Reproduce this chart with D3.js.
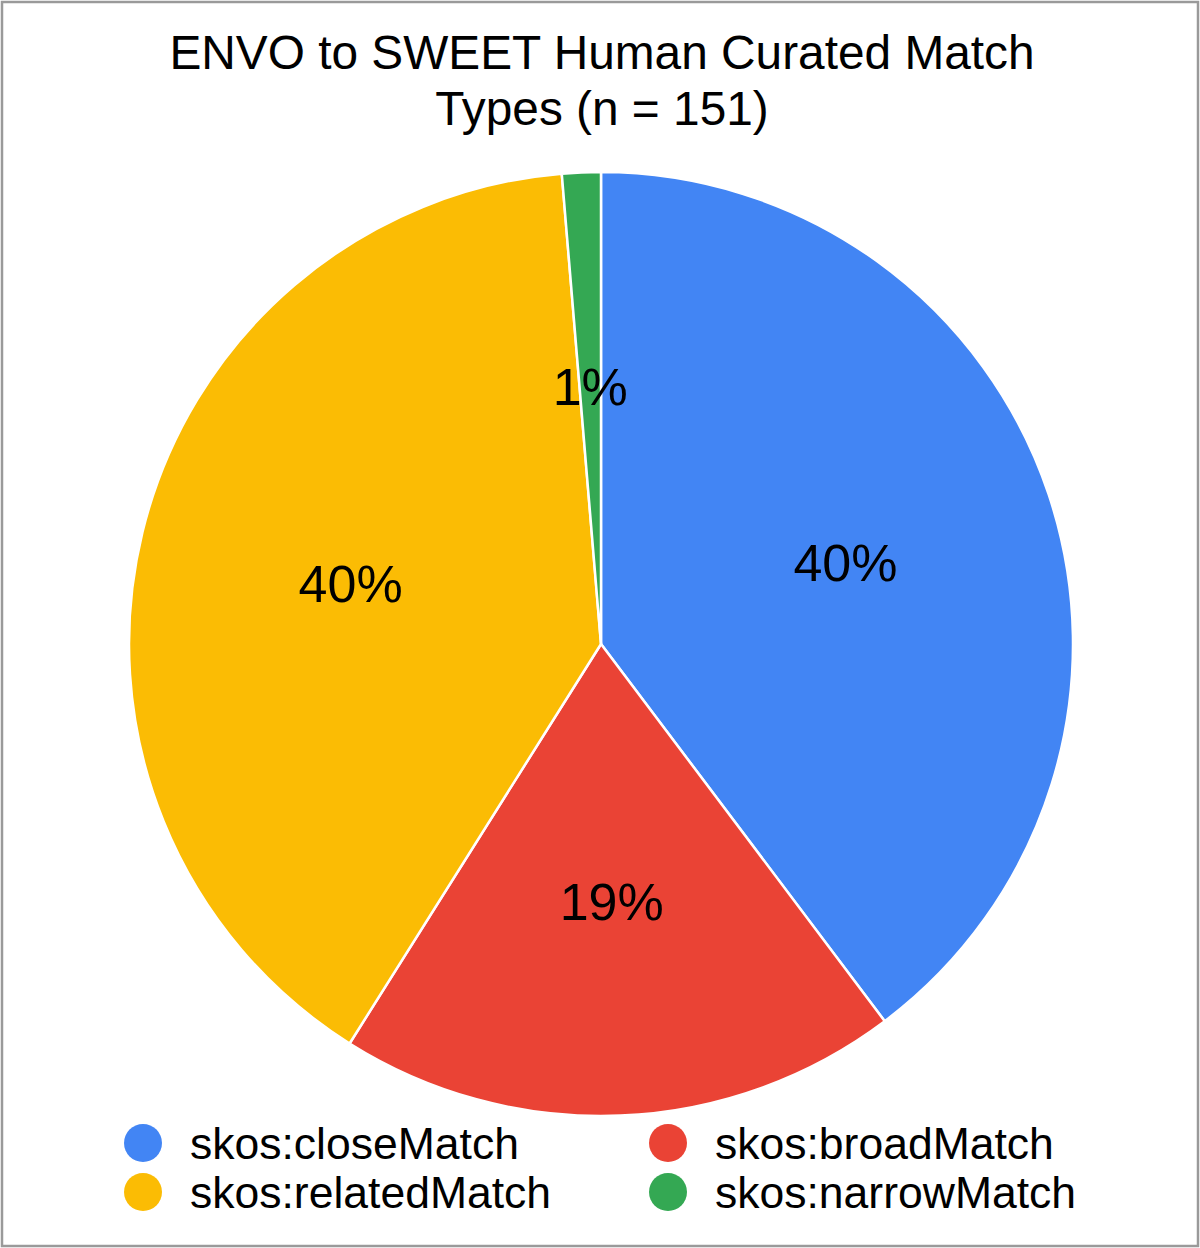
<!DOCTYPE html>
<html>
<head>
<meta charset="utf-8">
<script src="https://cdn.jsdelivr.net/npm/d3@7"></script>
<style>
  html, body { margin: 0; padding: 0; background: #fff; }
  svg { display: block; font-family: "Liberation Sans", Arial, sans-serif; }
</style>
</head>
<body>
<svg id="chart" width="1200" height="1248"></svg>
<script>
// Data
const titleLines = ["ENVO to SWEET Human Curated Match", "Types (n = 151)"];
const categories = ["skos:closeMatch", "skos:broadMatch", "skos:relatedMatch", "skos:narrowMatch"];
const counts = [60, 29, 60, 2];
const colors = ["#4285F4", "#EA4335", "#FBBC04", "#34A853"];

const W = 1200, H = 1248;
const svg = d3.select("#chart");

svg.append("rect")
  .attr("x", 2).attr("y", 2).attr("width", W - 4).attr("height", H - 4)
  .attr("fill", "#fff").attr("stroke", "#9a9a9a").attr("stroke-width", 2.5);

// Title
svg.append("g").selectAll("text").data(titleLines).join("text")
  .attr("x", 602).attr("y", (d, i) => 69 + i * 56)
  .attr("text-anchor", "middle")
  .attr("font-size", 47.8).attr("fill", "#000")
  .text(d => d);

const cx = 601, cy = 644, R = 472;
const data = categories.map((c, i) => ({ name: c, value: counts[i], color: colors[i] }));
const total = d3.sum(counts);

const pie = d3.pie().value(d => d.value).sort(null);
const arcs = pie(data);
const arc = d3.arc().innerRadius(0).outerRadius(R);
const labelArc = d3.arc().innerRadius(R * 0.546).outerRadius(R * 0.546);

const g = svg.append("g").attr("transform", `translate(${cx},${cy})`);
g.selectAll("path").data(arcs).join("path")
  .attr("d", arc)
  .attr("fill", d => d.data.color)
  .attr("stroke", "#fff").attr("stroke-width", 2.5).attr("stroke-linejoin", "round");

const fmt = v => Math.round(v / total * 100) + "%";
g.selectAll("text.lbl").data(arcs).join("text")
  .attr("class", "lbl")
  .attr("transform", d => { const [x, y] = labelArc.centroid(d); return `translate(${x},${y})`; })
  .attr("text-anchor", "middle")
  .attr("dy", "0.36em")
  .attr("font-size", 52).attr("fill", "#000")
  .text(d => fmt(d.data.value));

// Legend (2 columns, order: close, broad / related, narrow)
const legendOrder = [0, 1, 2, 3];
const colX = [143, 668];
const rowY = [1143, 1192];
const lg = svg.append("g");
const items = lg.selectAll("g").data(legendOrder).join("g")
  .attr("transform", (d, i) => `translate(${colX[i % 2]},${rowY[Math.floor(i / 2)]})`);
items.append("circle").attr("r", 19).attr("fill", d => colors[d]);
items.append("text").attr("x", 47).attr("y", 16)
  .attr("font-size", 44.5).attr("fill", "#000")
  .text(d => categories[d]);
</script>
</body>
</html>
